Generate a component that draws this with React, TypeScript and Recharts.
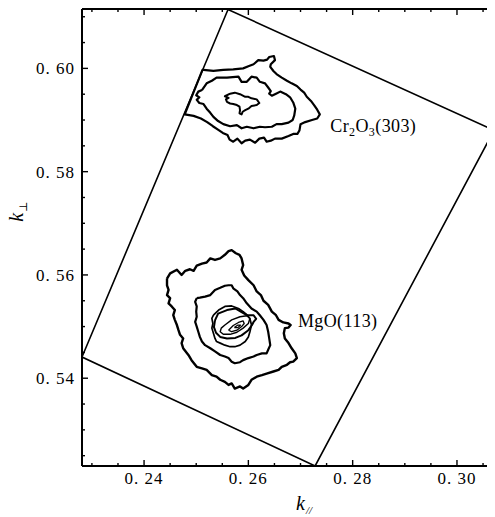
import { ScatterChart, Scatter, XAxis, YAxis } from 'recharts'

// k_par, k_perp pairs
const frame = [
  [0.2561, 0.6114], [0.3071, 0.588], [0.2728, 0.523], [0.2281, 0.5441],
]

const crOuter = [
  [0.2514, 0.5997], [0.2533, 0.5995], [0.2552, 0.5997], [0.2571, 0.5998], [0.259, 0.6],
  [0.26, 0.6004], [0.261, 0.6008], [0.2619, 0.6016], [0.2629, 0.6015], [0.2636, 0.6017],
  [0.264, 0.6022], [0.2649, 0.6024], [0.2651, 0.6016], [0.2643, 0.6008], [0.2642, 0.6003],
  [0.2648, 0.5995], [0.2654, 0.5989], [0.2664, 0.5982], [0.2674, 0.5976], [0.2683, 0.5971],
  [0.2693, 0.5966], [0.27, 0.5959], [0.2707, 0.5953], [0.2712, 0.5945], [0.272, 0.5937],
  [0.2726, 0.5929], [0.2732, 0.592], [0.2737, 0.5911], [0.2732, 0.5903], [0.2722, 0.59],
  [0.2709, 0.5896], [0.27, 0.5892], [0.2698, 0.588], [0.2694, 0.5873], [0.2686, 0.5873],
  [0.2677, 0.5869], [0.2664, 0.5864], [0.2651, 0.5864], [0.2643, 0.586], [0.2635, 0.5858],
  [0.263, 0.5866], [0.2621, 0.5864], [0.2613, 0.5856], [0.2603, 0.5862], [0.2594, 0.586],
  [0.2587, 0.5855], [0.2579, 0.5864], [0.2571, 0.5858], [0.2564, 0.5862], [0.256, 0.5871],
  [0.2551, 0.5875], [0.2541, 0.5882], [0.2532, 0.5888], [0.2521, 0.5896], [0.2509, 0.5903],
  [0.2495, 0.5908], [0.2478, 0.5911], [0.2512, 0.5997],
]

const crMiddle = [
  [0.2511, 0.5958], [0.252, 0.5971], [0.253, 0.5976], [0.2539, 0.5982], [0.2559, 0.5982],
  [0.2581, 0.5984], [0.2587, 0.5974], [0.2597, 0.5974], [0.2606, 0.5984], [0.2616, 0.5982],
  [0.2622, 0.5974], [0.2632, 0.5971], [0.2638, 0.5963], [0.2643, 0.5956], [0.264, 0.5951],
  [0.2645, 0.5947], [0.2653, 0.5951], [0.2661, 0.5955], [0.2672, 0.595], [0.268, 0.5944],
  [0.2686, 0.5934], [0.269, 0.5922], [0.2688, 0.5909], [0.2685, 0.59], [0.2677, 0.5895],
  [0.2664, 0.5892], [0.2654, 0.5892], [0.2645, 0.5887], [0.2632, 0.5886], [0.2622, 0.5887],
  [0.261, 0.5884], [0.2597, 0.5887], [0.2587, 0.5884], [0.2578, 0.589], [0.2565, 0.5888],
  [0.2552, 0.5892], [0.2542, 0.5898], [0.2533, 0.5906], [0.2527, 0.5914], [0.252, 0.5922],
  [0.2514, 0.5931], [0.2506, 0.5933], [0.2501, 0.5939], [0.2506, 0.5944], [0.25, 0.5948],
  [0.2504, 0.5955],
]

const crInner = [
  [0.2565, 0.5951], [0.2574, 0.5953], [0.2584, 0.595], [0.2594, 0.5945], [0.26, 0.5945],
  [0.2606, 0.5942], [0.2616, 0.594], [0.2621, 0.5933], [0.2616, 0.5929], [0.2606, 0.5927],
  [0.26, 0.5922], [0.2594, 0.5919], [0.2589, 0.5916], [0.2587, 0.5911], [0.2583, 0.5913],
  [0.2584, 0.5919], [0.2583, 0.5926], [0.2578, 0.5929], [0.2571, 0.5931], [0.2565, 0.5932],
  [0.2559, 0.5935], [0.2557, 0.594], [0.2562, 0.5943], [0.2555, 0.5946],
]

const mgo1 = [
  [0.2444, 0.5593], [0.245, 0.5603], [0.2463, 0.561], [0.2472, 0.56], [0.2479, 0.5608],
  [0.2488, 0.5611], [0.2495, 0.5608], [0.2501, 0.5618], [0.2511, 0.5622], [0.252, 0.5624],
  [0.2527, 0.5632], [0.2536, 0.5629], [0.2546, 0.5632], [0.2555, 0.5639], [0.2562, 0.5646],
  [0.2568, 0.5648], [0.2576, 0.5642], [0.2583, 0.5639], [0.2587, 0.5632], [0.259, 0.5619],
  [0.2587, 0.561], [0.2592, 0.5599], [0.26, 0.559], [0.261, 0.558], [0.2616, 0.5568],
  [0.2624, 0.5561], [0.2629, 0.555], [0.2638, 0.5542], [0.2645, 0.5529], [0.2653, 0.5522],
  [0.2658, 0.5513], [0.2667, 0.5508], [0.2677, 0.5506], [0.2681, 0.5503], [0.2677, 0.5498],
  [0.267, 0.5497], [0.2668, 0.5487], [0.267, 0.5477], [0.2677, 0.5468], [0.2683, 0.5458],
  [0.269, 0.5448], [0.2693, 0.5439], [0.2686, 0.5432], [0.268, 0.5431], [0.2674, 0.5426],
  [0.2664, 0.5422], [0.2658, 0.5416], [0.2648, 0.5413], [0.2635, 0.5409], [0.2626, 0.5406],
  [0.2616, 0.5403], [0.2606, 0.5397], [0.26, 0.5387], [0.259, 0.538], [0.2584, 0.5384],
  [0.2574, 0.538], [0.2568, 0.539], [0.2562, 0.5387], [0.2555, 0.5393], [0.2546, 0.5397],
  [0.2539, 0.5403], [0.253, 0.5406], [0.252, 0.5416], [0.2511, 0.5419], [0.2501, 0.5422],
  [0.2491, 0.5435], [0.2485, 0.5445], [0.2475, 0.5458], [0.2472, 0.5468], [0.2475, 0.5477],
  [0.2469, 0.5484], [0.2466, 0.5493], [0.2463, 0.5503], [0.2459, 0.5513], [0.2456, 0.5522],
  [0.2459, 0.5532], [0.2453, 0.5539], [0.2447, 0.5545], [0.245, 0.5555], [0.2444, 0.5561],
  [0.2447, 0.5571], [0.2444, 0.558],
]

const mgo2 = [
  [0.2501, 0.5555], [0.2507, 0.5556], [0.2517, 0.5558], [0.2527, 0.5561], [0.2536, 0.5571],
  [0.2546, 0.5575], [0.2555, 0.5579], [0.2562, 0.558], [0.2568, 0.558], [0.2571, 0.5574],
  [0.2579, 0.5568], [0.2584, 0.5561], [0.259, 0.5555], [0.2597, 0.5545], [0.2606, 0.5535],
  [0.2616, 0.5529], [0.2622, 0.5522], [0.2629, 0.5513], [0.2635, 0.5503], [0.2638, 0.549],
  [0.264, 0.5477], [0.2642, 0.5464], [0.2638, 0.5455], [0.2635, 0.5448], [0.2626, 0.5448],
  [0.2616, 0.5445], [0.261, 0.5442], [0.26, 0.5439], [0.259, 0.5435], [0.2584, 0.5431],
  [0.2574, 0.5429], [0.2568, 0.5432], [0.2562, 0.5439], [0.2555, 0.5442], [0.2546, 0.5445],
  [0.2536, 0.5452], [0.2527, 0.5458], [0.2517, 0.5464], [0.2511, 0.5471], [0.2507, 0.548],
  [0.2504, 0.549], [0.2501, 0.55], [0.2498, 0.5509], [0.2501, 0.5519], [0.25, 0.5529],
  [0.2501, 0.5539], [0.2498, 0.5548],
]

const mgo3 = [
  [0.2533, 0.5522], [0.2543, 0.5532], [0.2555, 0.5539], [0.2568, 0.554], [0.2581, 0.5535],
  [0.259, 0.5529], [0.2598, 0.5522], [0.2603, 0.5515], [0.2606, 0.5503], [0.2603, 0.549],
  [0.26, 0.548], [0.2594, 0.5471], [0.2584, 0.5464], [0.2574, 0.5461], [0.2565, 0.5461],
  [0.2555, 0.5464], [0.2546, 0.5468], [0.2539, 0.5471], [0.2536, 0.5477], [0.2533, 0.5487],
  [0.253, 0.5497], [0.2532, 0.5506], [0.253, 0.5516],
]

const mgo4 = [
  [0.2536, 0.5512], [0.2542, 0.5525], [0.2559, 0.5532], [0.2575, 0.5535], [0.2587, 0.5528],
  [0.2597, 0.5522], [0.261, 0.5522], [0.2615, 0.5515], [0.261, 0.5509], [0.2607, 0.5503],
  [0.26, 0.5493], [0.2587, 0.5483], [0.2575, 0.5478], [0.2559, 0.5477], [0.2546, 0.548],
  [0.2538, 0.5488], [0.2534, 0.5499],
]

const mgo5 = [
  [0.2555, 0.5503], [0.2568, 0.5513], [0.2584, 0.5519], [0.2597, 0.5521], [0.2603, 0.5516],
  [0.26, 0.5506], [0.259, 0.5497], [0.2578, 0.5489], [0.2565, 0.5485], [0.2552, 0.5485],
  [0.2546, 0.549], [0.2548, 0.5497],
]

const mgo6 = [
  [0.2562, 0.5493], [0.2571, 0.5502], [0.2581, 0.5508], [0.259, 0.5511], [0.2592, 0.5506],
  [0.2587, 0.55], [0.2578, 0.5493], [0.2568, 0.549],
]

const mgo7 = [[0.2573, 0.5498], [0.258, 0.5503], [0.2585, 0.5503], [0.258, 0.5498]]

const xTicks = [0.23, 0.235, 0.24, 0.245, 0.25, 0.255, 0.26, 0.265, 0.27, 0.275, 0.28, 0.285, 0.29, 0.295, 0.3, 0.305]
const yTicks = [0.525, 0.53, 0.535, 0.54, 0.545, 0.55, 0.555, 0.56, 0.565, 0.57, 0.575, 0.58, 0.585, 0.59, 0.595, 0.6, 0.605, 0.61]

const labels = [
  { x: 0.2757, y: 0.5877, name: 'Cr', parts: [['Cr', ''], ['2', 's'], ['O', ''], ['3', 's'], ['(303)', '']] },
  { x: 0.2695, y: 0.5499, name: 'MgO', parts: [['MgO(113)', '']] },
]

const closed = (a: number[][]) => [...a, a[0]].map(([x, y]) => ({ x, y }))

const serif = '"Liberation Serif", "DejaVu Serif", serif'
const isMajor = (v: number) => Math.abs(v * 50 - Math.round(v * 50)) < 1e-6
const fmt = (v: number) => v.toFixed(2).replace('.', '. ')

function BottomTick({ x, y, payload }: any) {
  const major = isMajor(payload.value)
  return (
    <g>
      <line x1={x} x2={x} y1={y} y2={y - (major ? 6 : 3)} stroke="#000" strokeWidth={1.4} />
      {major && (
        <text x={x} y={y + 18} textAnchor="middle" fontSize={17} letterSpacing={1} fontFamily={serif} fill="#000">
          {fmt(payload.value)}
        </text>
      )}
    </g>
  )
}

function TopTick({ x, y, payload }: any) {
  const major = isMajor(payload.value)
  return <line x1={x} x2={x} y1={y} y2={y + (major ? 6 : 3)} stroke="#000" strokeWidth={1.4} />
}

function LeftTick({ x, y, payload }: any) {
  const major = isMajor(payload.value)
  return (
    <g>
      <line x1={x} x2={x + (major ? 6 : 3)} y1={y} y2={y} stroke="#000" strokeWidth={1.4} />
      {major && (
        <text x={x - 7} y={y + 6} textAnchor="end" fontSize={17} letterSpacing={1} fontFamily={serif} fill="#000">
          {fmt(payload.value)}
        </text>
      )}
    </g>
  )
}

function RightTick({ x, y, payload }: any) {
  const major = isMajor(payload.value)
  return <line x1={x} x2={x - (major ? 6 : 3)} y1={y} y2={y} stroke="#000" strokeWidth={1.4} />
}

function LabelShape({ cx, cy, payload }: any) {
  return (
    <text x={cx} y={cy} fontSize={18} fontFamily={serif} fill="#000" letterSpacing={0.4}>
      {payload.parts.map(([t, s]: string[], i: number) =>
        s ? (
          <tspan key={i} dy={4} fontSize={12}>{t}</tspan>
        ) : (
          <tspan key={i} dy={i > 0 && payload.parts[i - 1][1] ? -4 : 0}>{t}</tspan>
        ),
      )}
    </text>
  )
}

const none = () => <g />

const contours: { data: number[][]; w: number }[] = [
  { data: frame, w: 1.6 },
  { data: crOuter, w: 2.2 },
  { data: crMiddle, w: 2.2 },
  { data: crInner, w: 2 },
  { data: mgo1, w: 2.4 },
  { data: mgo2, w: 2.2 },
  { data: mgo3, w: 1.7 },
  { data: mgo4, w: 2 },
  { data: mgo5, w: 1.4 },
  { data: mgo6, w: 1.3 },
  { data: mgo7, w: 1.2 },
]

const axisLine = { stroke: '#000', strokeWidth: 2 }

export default function App() {
  return (
    <div style={{ position: 'relative', width: 490, height: 509 }}>
      <ScatterChart width={490} height={509} margin={{ top: 0, right: 3, bottom: 50, left: 73 }}>
        <XAxis
          xAxisId="b" type="number" dataKey="x" domain={[0.2281, 0.3071]} allowDataOverflow
          ticks={xTicks} interval={0} tickSize={0} tickMargin={0} height={1}
          tickLine={false} tick={<BottomTick />} axisLine={axisLine}
        />
        <XAxis
          xAxisId="t" orientation="top" type="number" dataKey="x" domain={[0.2281, 0.3071]} allowDataOverflow
          ticks={xTicks} interval={0} tickSize={0} tickMargin={0} height={1}
          tickLine={false} tick={<TopTick />} axisLine={axisLine}
        />
        <YAxis
          yAxisId="l" type="number" dataKey="y" domain={[0.523, 0.6115]} allowDataOverflow
          ticks={yTicks} interval={0} tickSize={0} tickMargin={0} width={1}
          tickLine={false} tick={<LeftTick />} axisLine={axisLine}
        />
        <YAxis
          yAxisId="r" orientation="right" type="number" dataKey="y" domain={[0.523, 0.6115]} allowDataOverflow
          ticks={yTicks} interval={0} tickSize={0} tickMargin={0} width={1}
          tickLine={false} tick={<RightTick />} axisLine={axisLine}
        />
        {contours.map((c, i) => (
          <Scatter
            key={i} xAxisId="b" yAxisId="l" data={closed(c.data)} fill="#000"
            line={{ stroke: '#000', strokeWidth: c.w, strokeLinejoin: 'round' }}
            lineJointType="linear" shape={none} isAnimationActive={false}
          />
        ))}
        <Scatter xAxisId="b" yAxisId="l" data={labels} shape={<LabelShape />} isAnimationActive={false} />
        <Scatter xAxisId="t" yAxisId="r" data={[]} shape={none} isAnimationActive={false} />
      </ScatterChart>
      <div style={{ position: 'absolute', left: 288, top: 484, fontFamily: serif, fontSize: 20, fontStyle: 'italic', color: '#000' }}>
        k<span style={{ fontSize: 11, position: 'relative', top: 4, marginLeft: 1 }}>//</span>
      </div>
      <div
        style={{
          position: 'absolute', left: -7, top: 192, width: 30, textAlign: 'center',
          transform: 'rotate(-90deg)', fontFamily: serif, fontSize: 20, fontStyle: 'italic', color: '#000',
        }}
      >
        k<span style={{ fontSize: 11, fontStyle: 'normal', position: 'relative', top: 4, marginLeft: 1 }}>⊥</span>
      </div>
    </div>
  )
}
